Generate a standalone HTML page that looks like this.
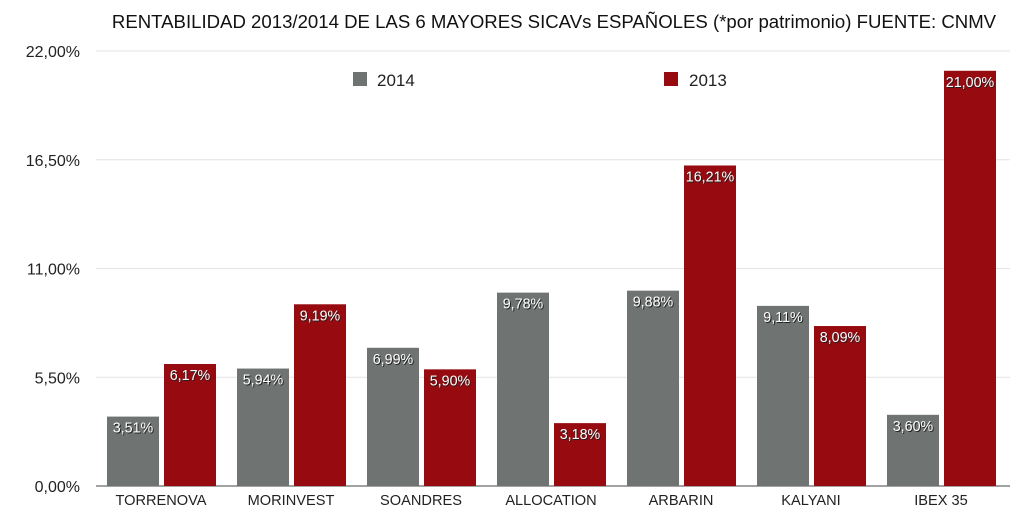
<!DOCTYPE html>
<html><head><meta charset="utf-8"><style>
body{margin:0;background:#fff;}
svg{display:block;font-family:"Liberation Sans",sans-serif;}
</style></head><body>
<svg id="chart" width="1030" height="530">
<text x="554" y="28" text-anchor="middle" font-size="18.6" fill="#111">RENTABILIDAD 2013/2014 DE LAS 6 MAYORES SICAVs ESPAÑOLES (*por patrimonio) FUENTE: CNMV</text>
<g id="grid"></g><g id="bars"></g><g id="labels"></g>
<g>
<rect x="353" y="72" width="14" height="14" fill="#6f7472"/>
<text x="377" y="86" font-size="17" fill="#222">2014</text>
<rect x="664" y="72" width="14" height="14" fill="#960a10"/>
<text x="689" y="86" font-size="17" fill="#222">2013</text>
</g>
</svg>
<script>
const categories=["TORRENOVA","MORINVEST","SOANDRES","ALLOCATION","ARBARIN","KALYANI","IBEX 35"];
const series2014=[3.51,5.94,6.99,9.78,9.88,9.11,3.60];
const series2013=[6.17,9.19,5.90,3.18,16.21,8.09,21.00];
const ticks=[0,5.5,11,16.5,22];
const tickLabels=["0,00%","5,50%","11,00%","16,50%","22,00%"];
const NS="http://www.w3.org/2000/svg";
const x0=96,step=130,yBase=486,yTop=51,maxV=22;
function y(v){return yBase-(v/maxV)*(yBase-yTop);}
function xc(i){return x0+step*i;}
function mk(tag,attrs,parent){const e=document.createElementNS(NS,tag);for(const k in attrs)e.setAttribute(k,attrs[k]);parent.appendChild(e);return e;}
const grid=document.getElementById('grid'),bars=document.getElementById('bars'),labels=document.getElementById('labels');
ticks.forEach((t,i)=>{
 const l=mk('line',{x1:96,x2:1010,y1:y(t),y2:y(t),stroke:i==0?'#444':'#e4e4e4','stroke-width':1},grid);
 
 
 const tx=mk('text',{x:80,y:y(t)+6,'text-anchor':'end','font-size':16,fill:'#222'},grid);
 tx.textContent=tickLabels[i];
 
 
});
function fmt(v){return v.toFixed(2).replace('.',',')+'%';}
categories.forEach((c,i)=>{
 [[series2014,'#6f7472',11,'bar-2014'],[series2013,'#960a10',68,'bar-2013']].forEach(([s,col,off,nm])=>{
  const v=s[i],bx=xc(i)+off;
  const r=mk('rect',{x:bx,y:y(v),width:52,height:yBase-y(v),fill:col},bars);
  
  
  const sh=mk('text',{x:bx+27,y:y(v)+17,'text-anchor':'middle','font-size':14.3,fill:'#222'},labels);
  sh.textContent=fmt(v);
  
  
  const t=mk('text',{x:bx+26,y:y(v)+16,'text-anchor':'middle','font-size':14.3,fill:'#fff'},labels);
  t.textContent=fmt(v);
  
  
 });
 const cl=mk('text',{x:xc(i)+65,y:505,'text-anchor':'middle','font-size':14.6,fill:'#222'},labels);
 cl.textContent=c;
 
 
});
</script>
</body></html>
